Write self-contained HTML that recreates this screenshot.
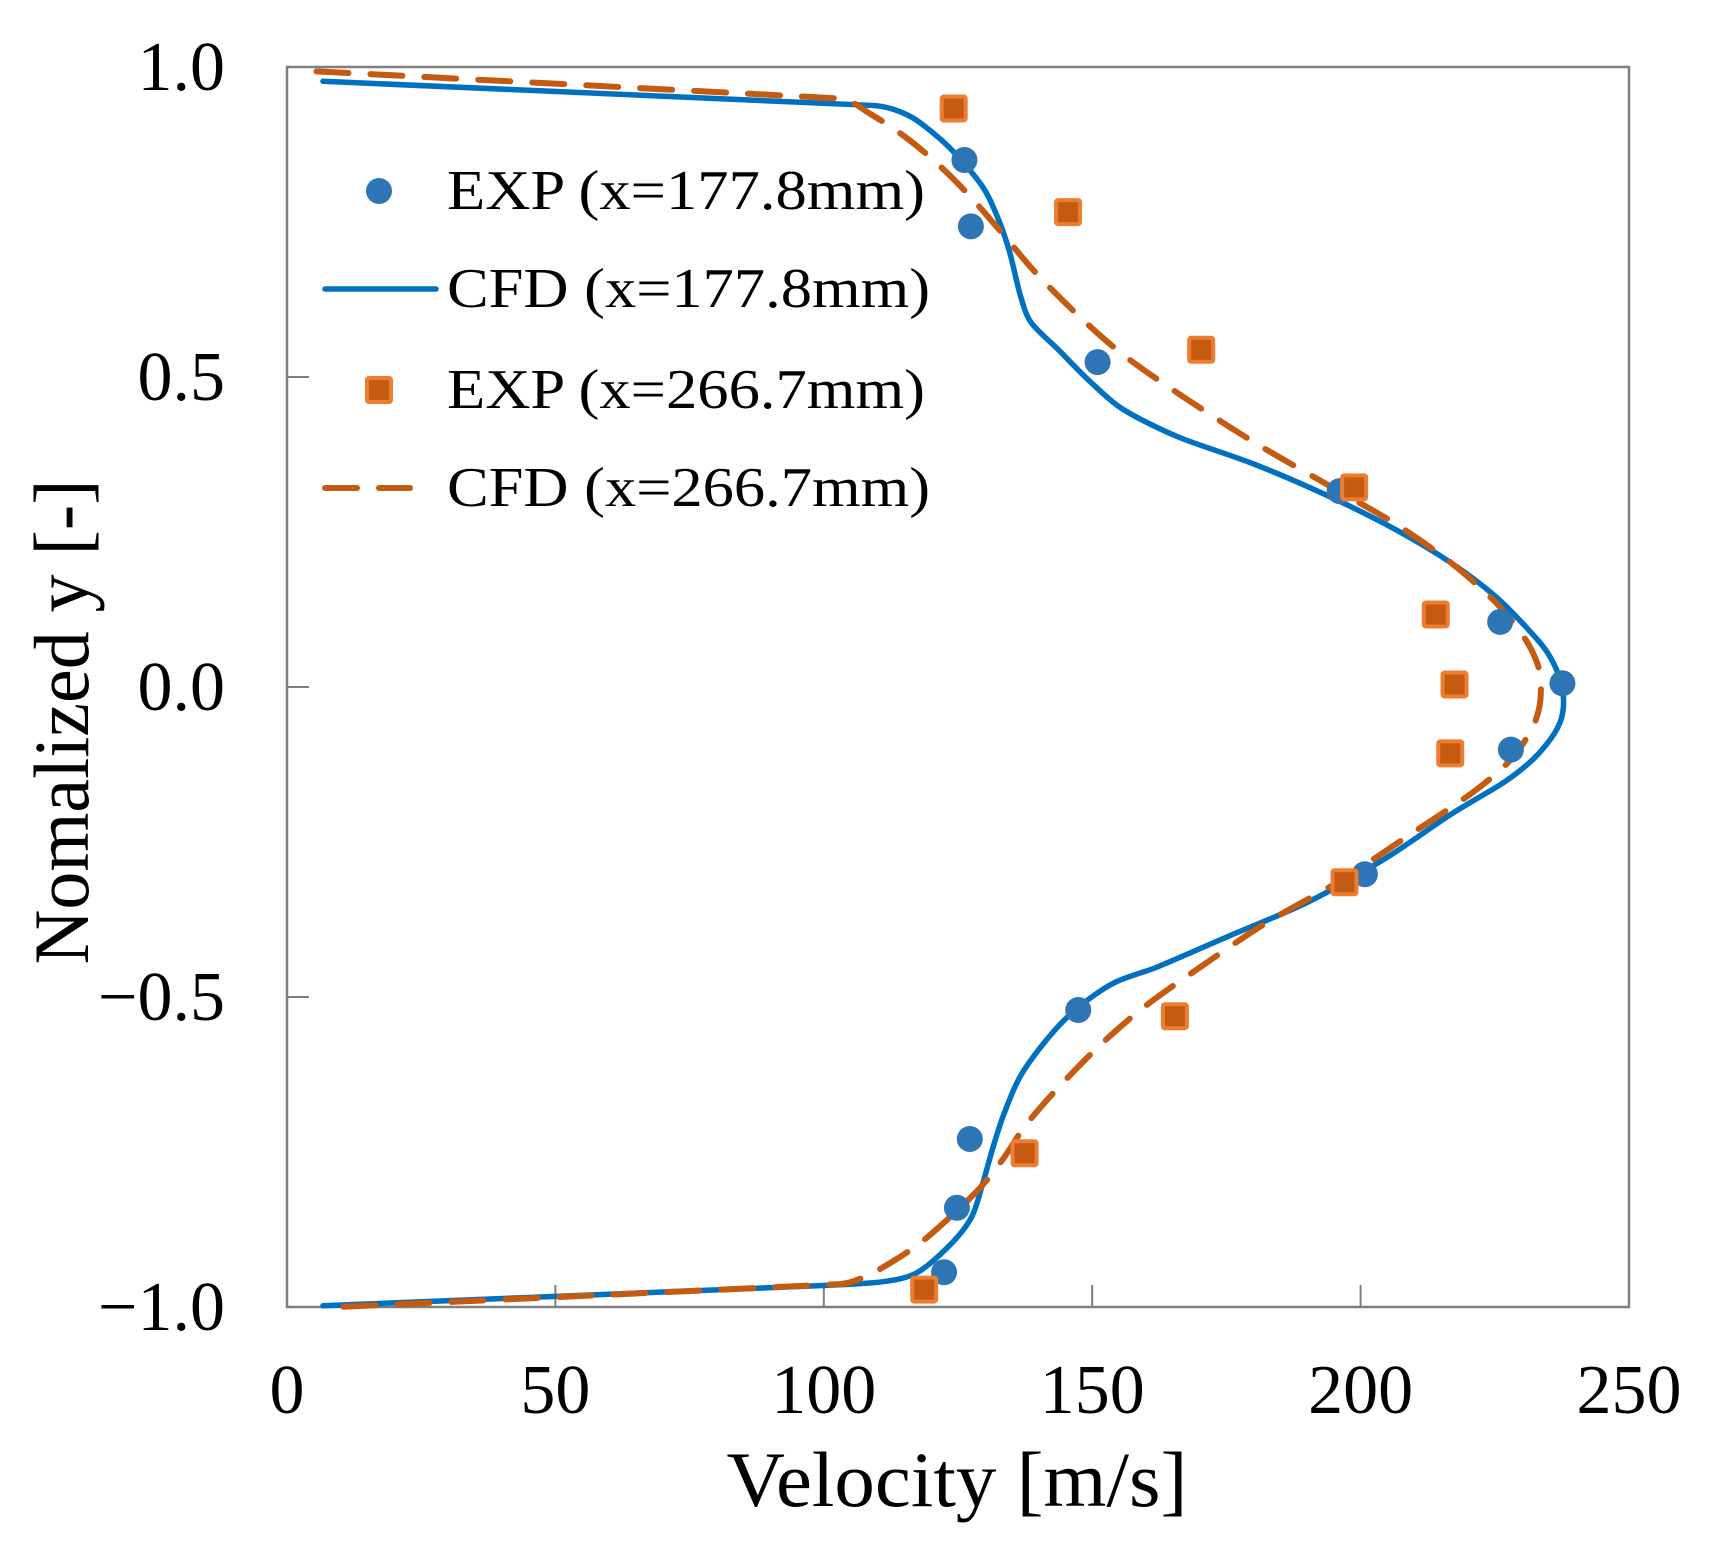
<!DOCTYPE html>
<html><head><meta charset="utf-8"><style>
html,body{margin:0;padding:0;background:#fff;}
svg{display:block;}
text{font-family:"Liberation Serif",serif;fill:#000;}
</style></head><body>
<svg id="chart" width="1710" height="1550" viewBox="0 0 1710 1550" xmlns="http://www.w3.org/2000/svg">
<rect x="0" y="0" width="1710" height="1550" fill="#fff"/>
<g id="grid"></g>
<rect x="287" y="67" width="1342" height="1240" fill="none" stroke="#7f7f7f" stroke-width="2.5"/>
<g id="series"></g>
<g id="legend">
  <circle cx="379" cy="191" r="13" fill="#2e75b6"/>
  <text x="447" y="209" font-size="56" textLength="478" lengthAdjust="spacingAndGlyphs">EXP (x=177.8mm)</text>
  <line x1="325" y1="289" x2="436" y2="289" stroke="#0070c0" stroke-width="5.5" stroke-linecap="round"/>
  <text x="447" y="307" font-size="56" textLength="483" lengthAdjust="spacingAndGlyphs">CFD (x=177.8mm)</text>
  <rect x="367" y="378" width="24" height="24" rx="2" fill="#c55a11" stroke="#ed7d31" stroke-width="4"/>
  <text x="447" y="408" font-size="56" textLength="478" lengthAdjust="spacingAndGlyphs">EXP (x=266.7mm)</text>
  <line x1="325" y1="488" x2="410" y2="488" stroke="#c55a11" stroke-width="6" stroke-dasharray="32 22" stroke-linecap="round"/>
  <text x="447" y="506" font-size="56" textLength="483" lengthAdjust="spacingAndGlyphs">CFD (x=266.7mm)</text>
</g>
<text x="957" y="1506" font-size="78" text-anchor="middle" textLength="461" lengthAdjust="spacingAndGlyphs">Velocity [m/s]</text>
<text transform="translate(88,722) rotate(-90)" font-size="78" text-anchor="middle" textLength="485" lengthAdjust="spacingAndGlyphs">Nomalized y [-]</text>
</svg>
<script>
const xTicks=[0,50,100,150,200,250];
const yTicks=[1.0,0.5,0.0,-0.5,-1.0];
const yTickLabels=["1.0","0.5","0.0","\u22120.5","\u22121.0"];
const exp177V=[126.2,127.4,151.0,196.1,226.0,237.6,228.0,200.8,147.4,127.2,124.8,122.4];
const exp177Y=[0.850,0.743,0.524,0.316,0.105,0.006,-0.101,-0.302,-0.521,-0.729,-0.840,-0.944];
const exp266V=[124.2,145.5,170.3,198.8,214.0,217.5,216.7,197.0,165.4,137.4,118.7];
const exp266Y=[0.933,0.766,0.544,0.322,0.117,0.004,-0.107,-0.315,-0.531,-0.752,-0.972];
const cfd177V=[6.7,109.1,113.2,117.3,123.4,129.5,132.5,134.6,136.6,138.6,143.7,149.8,155.9,166.1,180.3,194.5,206.7,216.9,225.0,231.1,235.2,237.6,237.2,233.1,227.0,216.9,204.7,190.4,176.2,162.0,153.9,146.7,141.7,136.6,133.5,131.5,129.5,127.4,123.4,117.3,111.2,101.0,6.7];
const cfd177Y=[0.977,0.938,0.931,0.914,0.870,0.808,0.755,0.702,0.632,0.588,0.544,0.491,0.447,0.403,0.359,0.306,0.253,0.200,0.147,0.094,0.050,-0.003,-0.056,-0.108,-0.152,-0.205,-0.276,-0.346,-0.399,-0.452,-0.478,-0.522,-0.567,-0.628,-0.690,-0.743,-0.804,-0.857,-0.901,-0.945,-0.959,-0.965,-0.998];
const cfd266V=[5.5,103.0,109.1,115.2,121.3,127.4,133.5,139.6,147.8,155.9,166.1,180.3,194.5,206.7,216.9,225.0,230.1,233.1,233.5,232.1,228.0,220.9,208.7,196.5,182.3,170.1,160.0,151.8,143.7,137.6,133.5,129.5,124.4,117.3,109.1,103.0,9.6];
const cfd266Y=[0.993,0.949,0.922,0.887,0.843,0.790,0.729,0.667,0.596,0.535,0.473,0.394,0.323,0.262,0.200,0.138,0.085,0.033,-0.020,-0.064,-0.117,-0.170,-0.241,-0.311,-0.381,-0.452,-0.514,-0.575,-0.646,-0.707,-0.760,-0.804,-0.848,-0.901,-0.945,-0.963,-1.0];

const NS="http://www.w3.org/2000/svg";
const L=287,R=1629,T=67,B=1307;
function xs(v){return L+(v-0)/250*(R-L);}
function ys(v){return T+(1-v)/2*(B-T);}
function mk(tag,attrs,parent){const e=document.createElementNS(NS,tag);for(const k in attrs)e.setAttribute(k,attrs[k]);parent.appendChild(e);return e;}
const grid=document.getElementById('grid'),series=document.getElementById('series');
xTicks.forEach((t,i)=>{
  const ln=mk('line',{x1:xs(t),x2:xs(t),y1:B,y2:B-22,stroke:'#7f7f7f','stroke-width':2},grid);
  
  
  const tx=mk('text',{x:xs(t),y:1413,'font-size':70,'text-anchor':'middle'},grid);
  tx.textContent=String(t);
  
  
});
yTicks.forEach((t,i)=>{
  const ln=mk('line',{x1:L,x2:L+22,y1:ys(t),y2:ys(t),stroke:'#7f7f7f','stroke-width':2},grid);
  
  
  const tx=mk('text',{x:225,y:ys(t)+23,'font-size':70,'text-anchor':'end'},grid);
  tx.textContent=yTickLabels[i];
  
  
});
function smooth(V,Y){
  const p=V.map((v,i)=>[xs(v),ys(Y[i])]);
  const n=p.length;
  const tan=p.map((q,i)=>{
    const a=p[Math.max(0,i-1)],b=p[Math.min(n-1,i+1)];
    const dx=b[0]-a[0],dy=b[1]-a[1],l=Math.hypot(dx,dy)||1;
    return [dx/l,dy/l];
  });
  let d='M'+p[0][0]+','+p[0][1];
  for(let i=0;i<n-1;i++){
    const p1=p[i],p2=p[i+1];
    const seg=Math.hypot(p2[0]-p1[0],p2[1]-p1[1]);
    const l1=Math.min(seg/3,(i>0?Math.hypot(p1[0]-p[i-1][0],p1[1]-p[i-1][1]):seg)/3);
    const l2=Math.min(seg/3,(i+2<n?Math.hypot(p[i+2][0]-p2[0],p[i+2][1]-p2[1]):seg)/3);
    const c1=[p1[0]+tan[i][0]*l1,p1[1]+tan[i][1]*l1];
    const c2=[p2[0]-tan[i+1][0]*l2,p2[1]-tan[i+1][1]*l2];
    d+=' C'+c1[0]+','+c1[1]+' '+c2[0]+','+c2[1]+' '+p2[0]+','+p2[1];
  }
  return d;
}
const l1=mk('path',{d:smooth(cfd177V,cfd177Y),fill:'none',stroke:'#0070c0','stroke-width':5.5,'stroke-linecap':'round','stroke-linejoin':'round'},series);


const l2=mk('path',{d:smooth(cfd266V,cfd266Y),fill:'none',stroke:'#c55a11','stroke-width':6,'stroke-dasharray':'32 22','stroke-linecap':'round'},series);


exp177V.forEach((v,i)=>{
  const c=mk('circle',{cx:xs(v),cy:ys(exp177Y[i]),r:13,fill:'#2e75b6'},series);
  
  
});
exp266V.forEach((v,i)=>{
  const s=mk('rect',{x:xs(v)-12,y:ys(exp266Y[i])-12,width:24,height:24,rx:2,fill:'#c55a11',stroke:'#ed7d31','stroke-width':4},series);
  
  
});
</script>
</body></html>
